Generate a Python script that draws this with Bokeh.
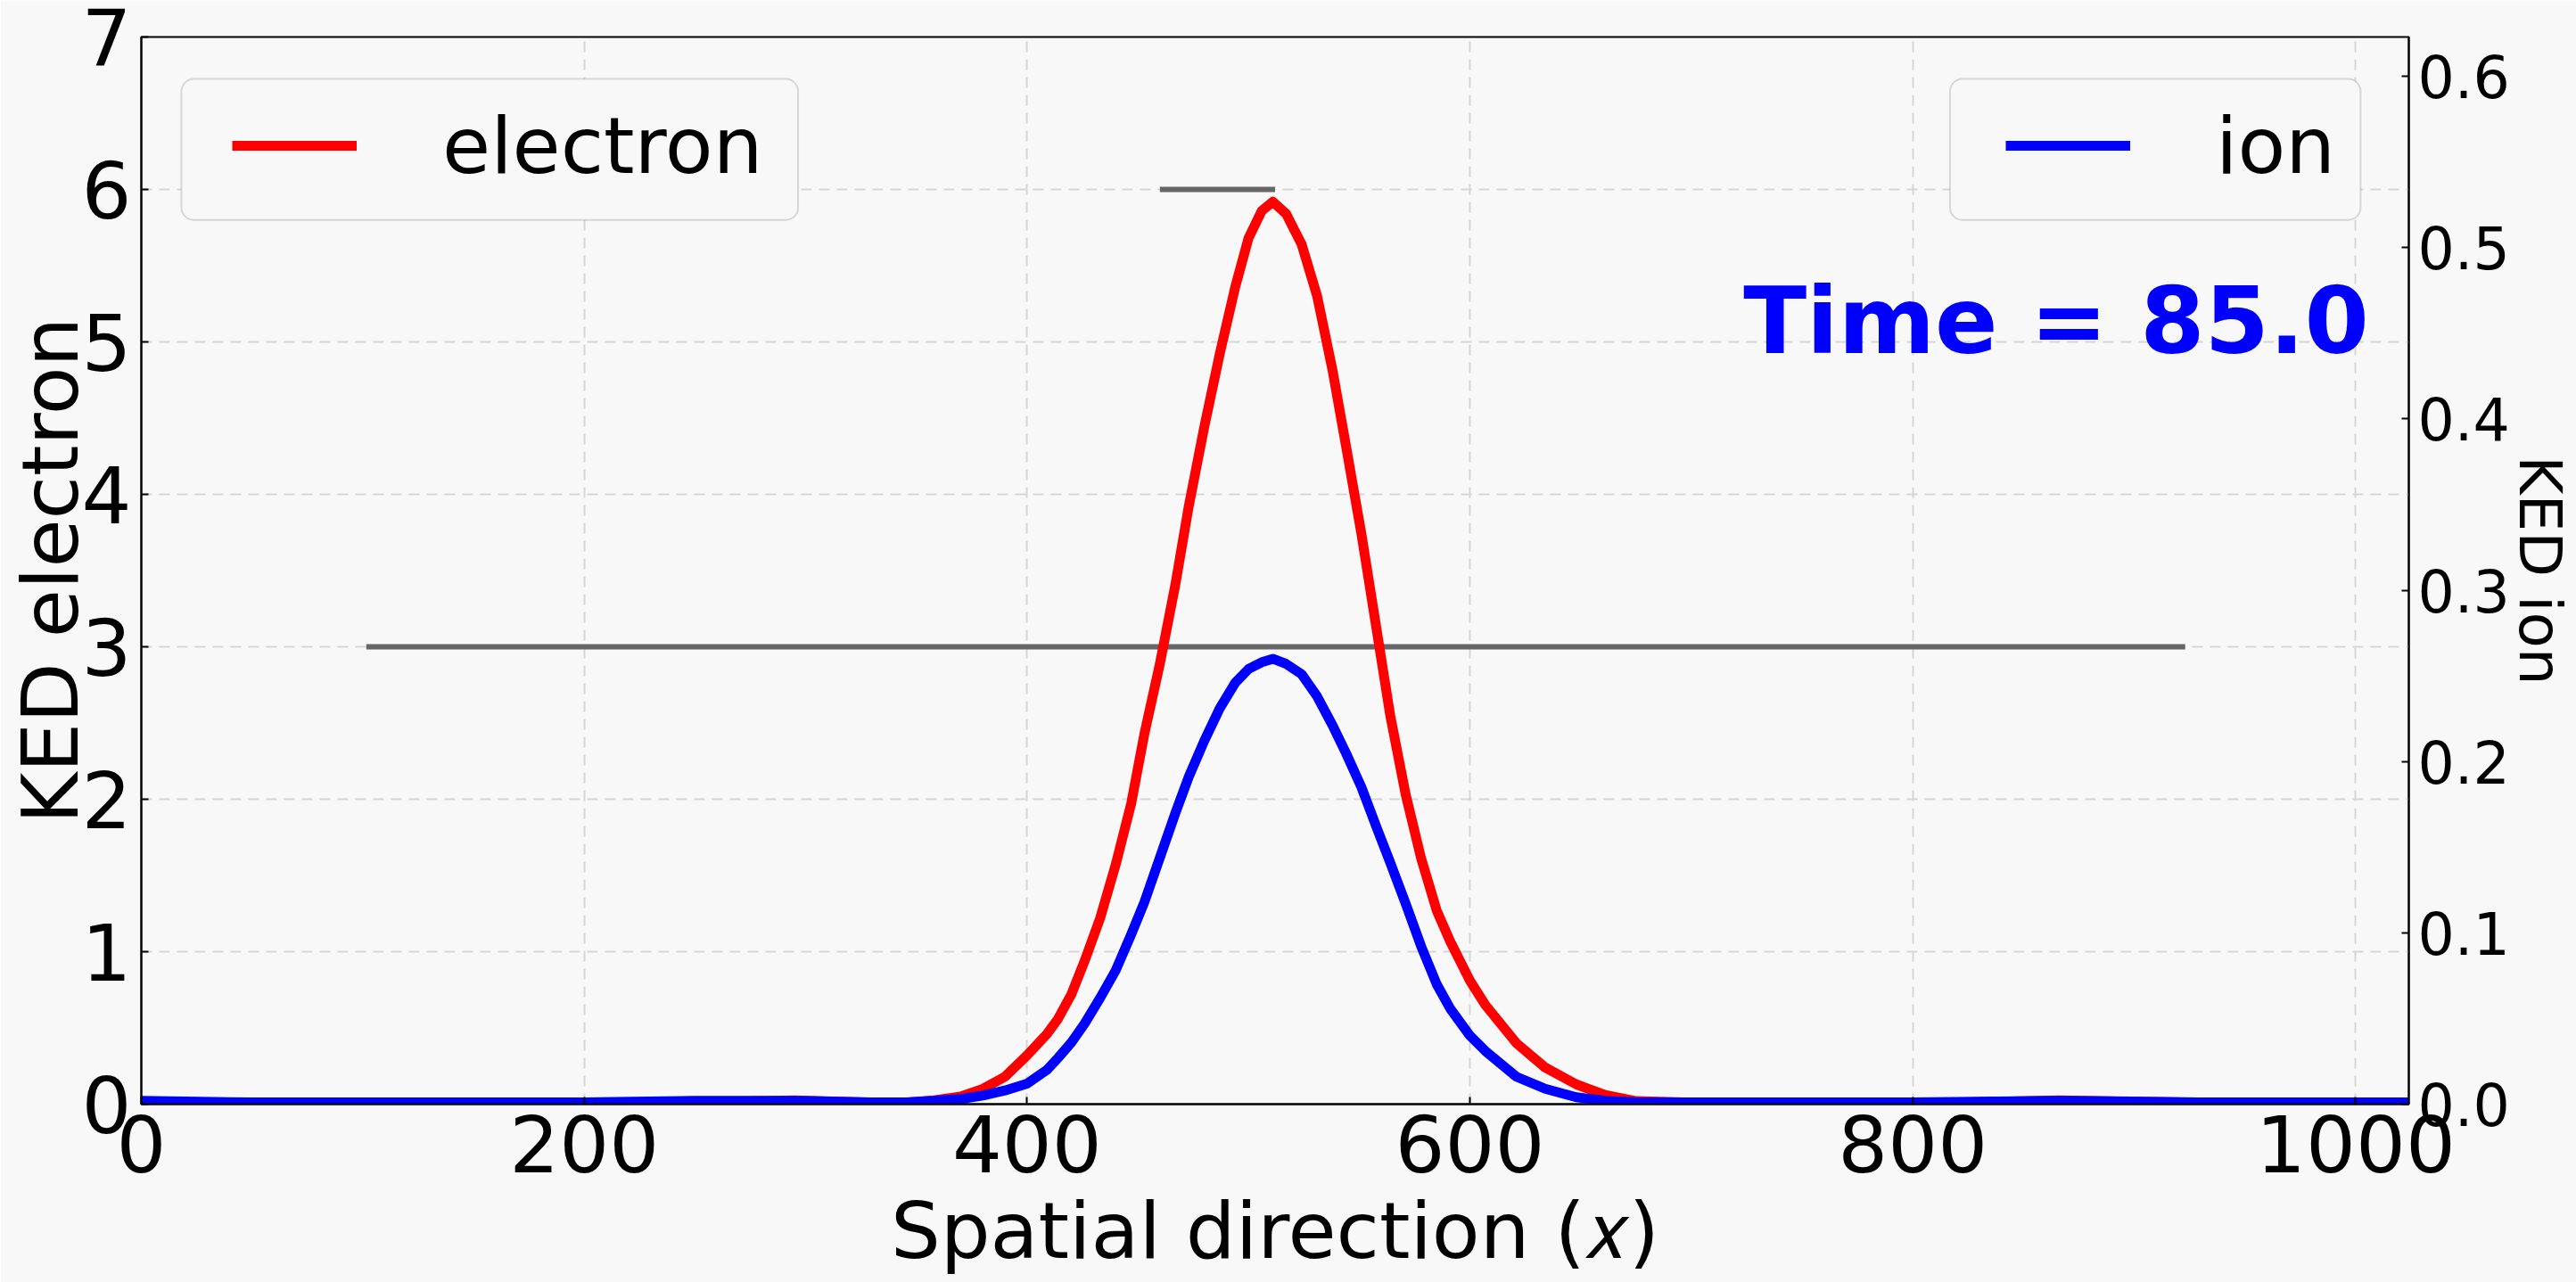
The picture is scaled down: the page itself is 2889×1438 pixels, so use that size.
import math
from bokeh.plotting import figure
from bokeh.models import (Range1d, LinearAxis, FixedTicker, NumeralTickFormatter,
                          Legend, LegendItem, Label, BoxAnnotation, ColumnDataSource)
from bokeh.embed import file_html
from bokeh.resources import INLINE

# ---------------- data ----------------
x_pos = [0, 50, 100, 150, 200, 250, 295, 330, 345, 358,
         370, 380, 390, 400, 409, 414, 420, 426, 433, 440,
         447, 453, 460, 467, 473, 480, 487, 494, 500, 506,
         511, 517, 524, 531, 538, 544, 551, 558, 564, 571,
         578, 585, 591, 600, 607, 621, 634, 648, 661, 675,
         700, 750, 800, 866, 930, 1000, 1024]
ked_electron = [0.01, 0.005, 0.005, 0.005, 0.01, 0.01, 0.025, 0.01, 0.01, 0.025,
                0.05, 0.10, 0.18, 0.32, 0.46, 0.56, 0.72, 0.94, 1.22, 1.57,
                1.97, 2.43, 2.89, 3.41, 3.92, 4.44, 4.92, 5.36, 5.68, 5.86,
                5.92, 5.84, 5.64, 5.30, 4.81, 4.32, 3.74, 3.10, 2.55, 2.03,
                1.61, 1.27, 1.07, 0.81, 0.65, 0.40, 0.24, 0.13, 0.06, 0.02,
                0.01, 0.005, 0.005, 0.025, 0.01, 0.005, 0.005]
ked_ion = [0.002, 0.001, 0.001, 0.001, 0.001, 0.002, 0.002, 0.001, 0.001, 0.002,
           0.003, 0.005, 0.008, 0.012, 0.020, 0.027, 0.036, 0.047, 0.062, 0.078,
           0.099, 0.118, 0.144, 0.170, 0.191, 0.212, 0.231, 0.246, 0.254, 0.258,
           0.260, 0.257, 0.251, 0.238, 0.221, 0.205, 0.185, 0.161, 0.141, 0.117,
           0.092, 0.070, 0.056, 0.040, 0.031, 0.016, 0.009, 0.004, 0.002, 0.001,
           0.001, 0.001, 0.001, 0.002, 0.001, 0.001, 0.001]

ref_y = [6.0, 3.0]
ref_x0 = [460, 101.6]
ref_x1 = [512, 923]

x_ticks = [0, 200, 400, 600, 800, 1000]
electron_ticks = [0, 1, 2, 3, 4, 5, 6, 7]
ion_ticks = [0.0, 0.1, 0.2, 0.3, 0.4, 0.5, 0.6]

series_labels = ["electron", "ion"]
time_text = "Time = 85.0"
x_title = "Spatial direction (\U0001D465)"
y_left_title = "KED electron"
y_right_title = "KED ion"

# ---------------- layout / style ----------------
BG = "#f8f8f8"
W, H = 2889, 1438
FL, FR, FT, FB = 158, 2707, 41, 1238
FONT = "DejaVu Sans"
BIG = "88px"
SMALL = "65px"

p = figure(width=W, height=H, output_backend="svg", toolbar_location=None,
           x_range=Range1d(0, 1024), y_range=Range1d(0, 7),
           min_border_left=FL, min_border_right=W - FR,
           min_border_top=FT, min_border_bottom=H - FB,
           background_fill_color=BG, border_fill_color=BG)
p.extra_y_ranges = {"ion": Range1d(0, 0.623)}

p.outline_line_color = "black"
p.outline_line_width = 2

src = ColumnDataSource(dict(x=x_pos, e=ked_electron, i=ked_ion))
ref = ColumnDataSource(dict(y=ref_y, x0=ref_x0, x1=ref_x1))

p.segment(x0="x0", y0="y", x1="x1", y1="y", source=ref, line_color="#666666", line_width=6)
r_e = p.line("x", "e", source=src, line_color="#ff0000", line_width=11, line_join="round")
r_i = p.line("x", "i", source=src, line_color="#0000ff", line_width=11, line_join="round",
             y_range_name="ion")

# axes
xa = p.xaxis[0]
ya = p.yaxis[0]
xa.ticker = FixedTicker(ticks=x_ticks)
ya.ticker = FixedTicker(ticks=electron_ticks)
xa.axis_label = x_title
ya.axis_label = y_left_title

ra = LinearAxis(y_range_name="ion", ticker=FixedTicker(ticks=ion_ticks),
                formatter=NumeralTickFormatter(format="0.0"), axis_label=y_right_title)
p.add_layout(ra, "right")

for ax in (xa, ya, ra):
    ax.major_label_text_font = FONT
    ax.major_label_text_color = "black"
    ax.axis_label_text_font = FONT
    ax.axis_label_text_font_style = "normal"
    ax.axis_label_text_color = "black"
    ax.axis_line_color = "black"
    ax.axis_line_width = 2
    ax.major_tick_in = 8
    ax.major_tick_out = 0
    ax.minor_tick_in = 0
    ax.minor_tick_out = 0
    ax.major_tick_line_color = "black"
    ax.major_tick_line_width = 2

for ax in (xa, ya):
    ax.major_label_text_font_size = BIG
    ax.axis_label_text_font_size = BIG
xa.major_label_standoff = 12
xa.axis_label_standoff = 11
ya.major_label_standoff = 11
ya.axis_label_standoff = -19

ra.major_label_text_font_size = SMALL
ra.axis_label_text_font_size = "66px"
ra.major_label_standoff = 10
ra.axis_label_standoff = -8
ra.axis_label_orientation = "vertical"

# grid
for g in (p.xgrid[0], p.ygrid[0]):
    g.grid_line_color = "#d6d6d6"
    g.grid_line_dash = "12 8"
    g.grid_line_width = 2

# legend frames (rounded boxes)
for (l, r) in ((18.1, 296.6), (816.8, 1002.2)):
    p.add_layout(BoxAnnotation(left=l, right=r, top=6.725, bottom=5.80,
                               fill_color=BG, fill_alpha=1.0,
                               line_color="#8c8c8c", line_width=2,
                               border_radius=14, level="glyph"))

def make_legend(label, rend, x0):
    return Legend(items=[LegendItem(label=label, renderers=[rend])],
                  location=(x0, 1015), padding=0, margin=0, spacing=0,
                  glyph_width=140, glyph_height=120, label_height=120,
                  label_standoff=96, label_text_font=FONT, label_text_font_size=BIG,
                  label_text_color="black",
                  border_line_color=None, background_fill_alpha=0.0)

p.add_layout(make_legend(series_labels[0], r_e, 102), "center")
p.add_layout(make_legend(series_labels[1], r_i, 2091), "center")

p.add_layout(Label(x=1006, y=5.135, text=time_text, text_align="right",
                   text_baseline="alphabetic", text_font=FONT, text_font_style="bold",
                   text_font_size="104px", text_color="#0000ff"))

open("out.html", "w").write(file_html(p, INLINE))
